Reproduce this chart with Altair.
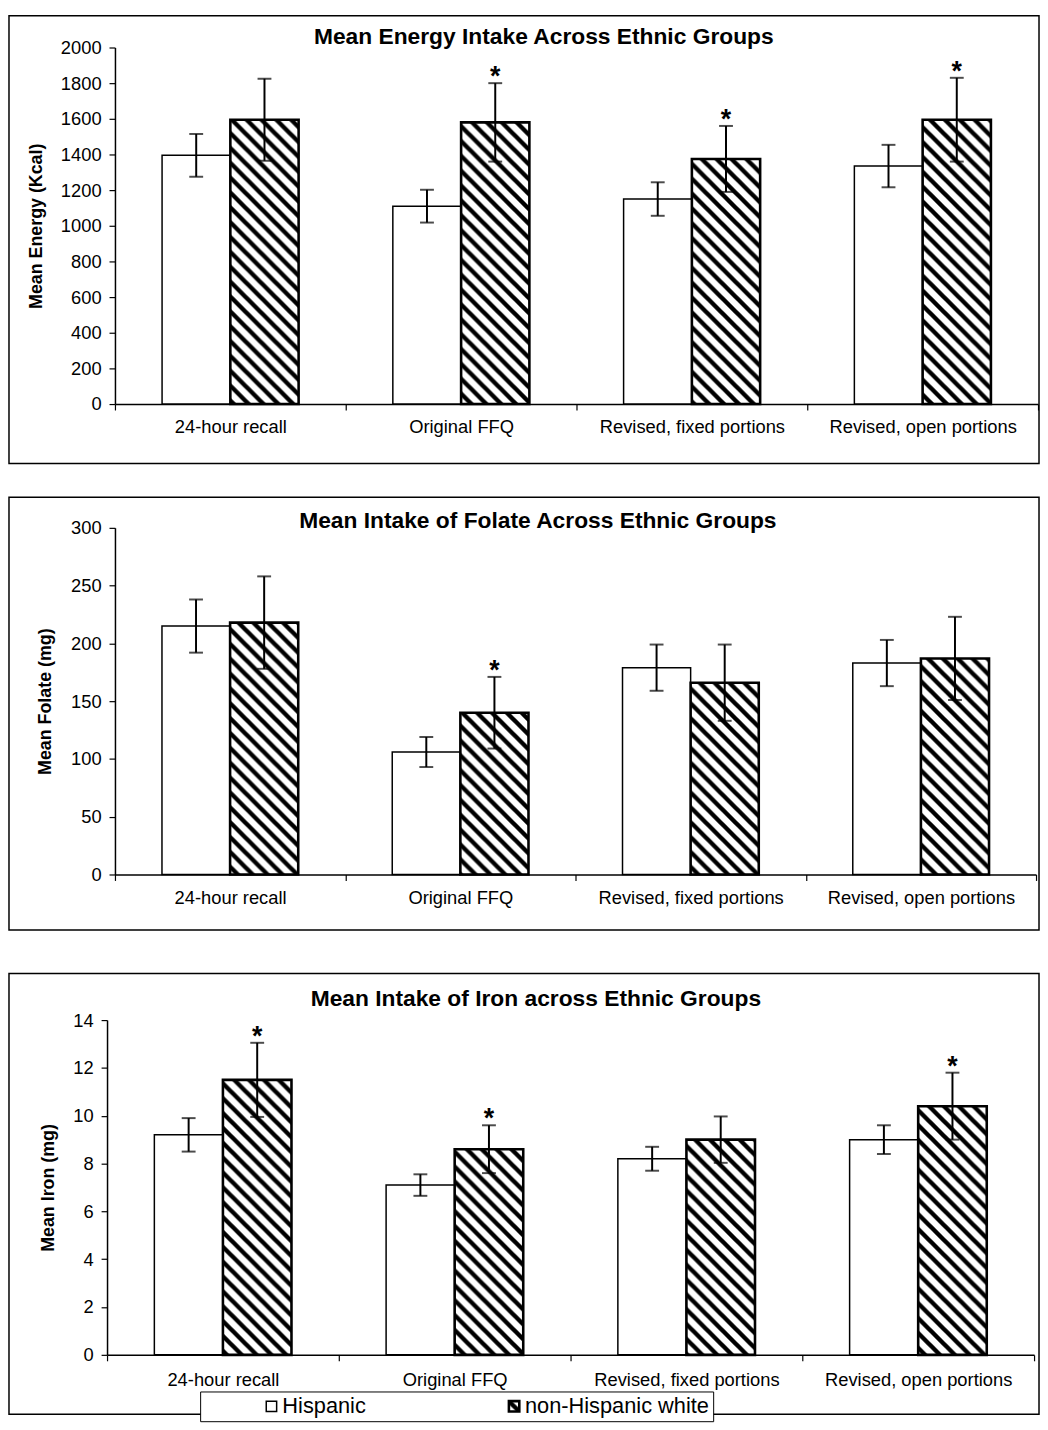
import altair as alt
import pandas as pd
import altair.utils.html as _alt_html

# ---------------- data ----------------
categories = ["24-hour recall", "Original FFQ", "Revised, fixed portions", "Revised, open portions"]
groups = ["Hispanic", "non-Hispanic white"]

energy_hisp = [1395, 1110, 1150, 1335]
energy_hisp_err = [120, 92, 94, 119]
energy_nhw = [1595, 1580, 1375, 1595]
energy_nhw_err = [230, 220, 185, 235]
energy_sig = [False, True, True, True]

folate_hisp = [215, 106, 179, 183]
folate_hisp_err = [23, 13, 20, 20]
folate_nhw = [218, 140, 166, 187]
folate_nhw_err = [40, 31, 33, 36]
folate_sig = [False, True, False, False]

iron_hisp = [9.2, 7.1, 8.2, 9.0]
iron_hisp_err = [0.7, 0.45, 0.5, 0.6]
iron_nhw = [11.5, 8.6, 9.0, 10.4]
iron_nhw_err = [1.55, 1.0, 0.97, 1.4]
iron_sig = [True, True, False, True]

energy_ticks = list(range(0, 2001, 200))
folate_ticks = list(range(0, 301, 50))
iron_ticks = list(range(0, 15, 2))

FONT = "Liberation Sans"

# diagonal hatch pattern for the non-Hispanic white bars
HATCH_DEFS = (
    '<svg width="0" height="0" style="position:absolute;left:0;top:0" aria-hidden="true">'
    '<defs><pattern id="hatch" patternUnits="userSpaceOnUse" width="15" height="15">'
    '<rect width="15" height="15" fill="white"/>'
    '<path d="M-4,-4L19,19M-4,11L4,19M11,-4L19,4" stroke="black" stroke-width="4.4"/>'
    '</pattern></defs></svg>'
)
_orig_tpl = _alt_html.TEMPLATES["standard"]


class _HatchTemplate:
    def render(self, *args, **kwargs):
        html = _orig_tpl.render(*args, **kwargs)
        if "<body>" in html:
            return html.replace("<body>", "<body>\n" + HATCH_DEFS, 1)
        return HATCH_DEFS + html


_alt_html.TEMPLATES["standard"] = _HatchTemplate()


def make_frame(mh, eh, mw, ew, sig):
    rows = []
    for i, c in enumerate(categories):
        rows.append(dict(category=c, group=groups[0], mean=mh[i], lo=mh[i] - eh[i], hi=mh[i] + eh[i], star=""))
        rows.append(dict(category=c, group=groups[1], mean=mw[i], lo=mw[i] - ew[i], hi=mw[i] + ew[i],
                         star="*" if sig[i] else ""))
    return pd.DataFrame(rows)


def panel(df, title, ytitle, ydomain, yticks, yrange, xrange, height, xaxis_off, title_pad,
          title_offset, title_dx, legend=None, xlabel_pad=8):
    x_axis = alt.Axis(title=None, orient="bottom", offset=xaxis_off, tickBand="extent", labelAngle=0,
                      labelFontSize=18.5, labelFont=FONT, labelColor="black", tickColor="black",
                      domainColor="black", tickSize=6, labelPadding=xlabel_pad, grid=False,
                      domainWidth=1.5, tickWidth=1.2, labelLimit=400)
    xscale = alt.Scale(domain=categories, range=xrange, paddingInner=0, paddingOuter=0)
    xo = alt.XOffset("group:N", sort=groups,
                     scale=alt.Scale(domain=groups, paddingOuter=0.69, paddingInner=0))
    yscale = alt.Scale(domain=ydomain, range=yrange, nice=False, zero=True)
    y_axis = alt.Axis(title=ytitle, values=yticks, format="d", orient="left", offset=-xrange[0],
                      grid=False, tickSize=6, labelPadding=8, labelFontSize=18.5, labelFont=FONT,
                      labelColor="black", domainColor="black", tickColor="black", titleFont=FONT,
                      titleFontSize=18, titleFontWeight="bold", titleColor="black",
                      titlePadding=title_pad, domainWidth=1.5, tickWidth=1.2)

    xx = alt.X("category:N", sort=categories, scale=xscale, axis=x_axis)
    base = alt.Chart(df)
    bars = base.mark_bar(stroke="black").encode(
        x=xx,
        xOffset=xo,
        y=alt.Y("mean:Q", scale=yscale, axis=y_axis),
        fill=alt.Fill("group:N", sort=groups,
                      scale=alt.Scale(domain=groups, range=["white", "url(#hatch)"]), legend=legend),
        strokeWidth=alt.StrokeWidth("group:N", scale=alt.Scale(domain=groups, range=[1.5, 2.6]),
                                    legend=None),
    )
    rules = base.mark_rule(color="black", strokeWidth=2).encode(
        x=xx, xOffset=xo, y=alt.Y("lo:Q", scale=yscale, axis=y_axis), y2="hi:Q")
    cap_lo = base.mark_tick(color="black", size=14, thickness=2).encode(
        x=xx, xOffset=xo, y=alt.Y("lo:Q", scale=yscale, axis=y_axis))
    cap_hi = base.mark_tick(color="black", size=14, thickness=2).encode(
        x=xx, xOffset=xo, y=alt.Y("hi:Q", scale=yscale, axis=y_axis))
    stars = base.transform_filter("datum.star != ''").mark_text(
        font=FONT, fontSize=27, fontWeight="bold", color="black", baseline="alphabetic", dy=2
    ).encode(x=xx, xOffset=xo, y=alt.Y("hi:Q", scale=yscale, axis=y_axis), text="star:N")

    return alt.layer(bars, rules, cap_lo, cap_hi, stars).properties(
        width=1040, height=height,
        title=alt.TitleParams(text=title, font=FONT, fontSize=23, fontWeight="bold", color="black",
                              anchor="middle", frame="group", offset=title_offset, dx=title_dx),
    )


energy_df = make_frame(energy_hisp, energy_hisp_err, energy_nhw, energy_nhw_err, energy_sig)
folate_df = make_frame(folate_hisp, folate_hisp_err, folate_nhw, folate_nhw_err, folate_sig)
iron_df = make_frame(iron_hisp, iron_hisp_err, iron_nhw, iron_nhw_err, iron_sig)

p1 = panel(energy_df, "Mean Energy Intake Across Ethnic Groups", "Mean Energy (Kcal)", [0, 2000],
           energy_ticks, [392, 32], [107, 1039], 452, -60, 15, -33, 20)
p2 = panel(folate_df, "Mean Intake of Folate Across Ethnic Groups", "Mean Folate (mg)", [0, 300],
           folate_ticks, [381, 31], [107, 1037], 437, -56, 16, -36, 14)

NBSP_PAD = "\u00a0" * 8
legend3 = alt.Legend(title=None, orient="none", legendX=193, legendY=422, direction="horizontal",
                     symbolType="square", symbolSize=110, symbolStrokeColor="black",
                     symbolStrokeWidth=1.5, labelFontSize=22, labelFont=FONT, labelColor="black",
                     strokeColor="black", fillColor="white", padding=4, columnPadding=81,
                     symbolOffset=57, labelOffset=0, labelLimit=400,
                     labelExpr="datum.label == 'non-Hispanic white' ? datum.label + '" + NBSP_PAD
                               + "' : datum.label")
p3 = panel(iron_df, "Mean Intake of Iron across Ethnic Groups", "Mean Iron (mg)", [0, 14],
           iron_ticks, [385, 47], [99, 1035], 445, -60, 15, -38, 12, legend=legend3, xlabel_pad=10)

top = alt.vconcat(p1, p2, spacing=32).resolve_scale(
    fill="independent", strokeWidth="independent", xOffset="independent").resolve_legend(fill="independent")
chart = alt.vconcat(top, p3, spacing=42).resolve_scale(
    fill="independent", strokeWidth="independent", xOffset="independent").resolve_legend(
    fill="independent").properties(padding=0).configure_view(stroke="black", strokeWidth=1.5)

chart.save("out.html", embed_options={"renderer": "svg", "actions": False})
